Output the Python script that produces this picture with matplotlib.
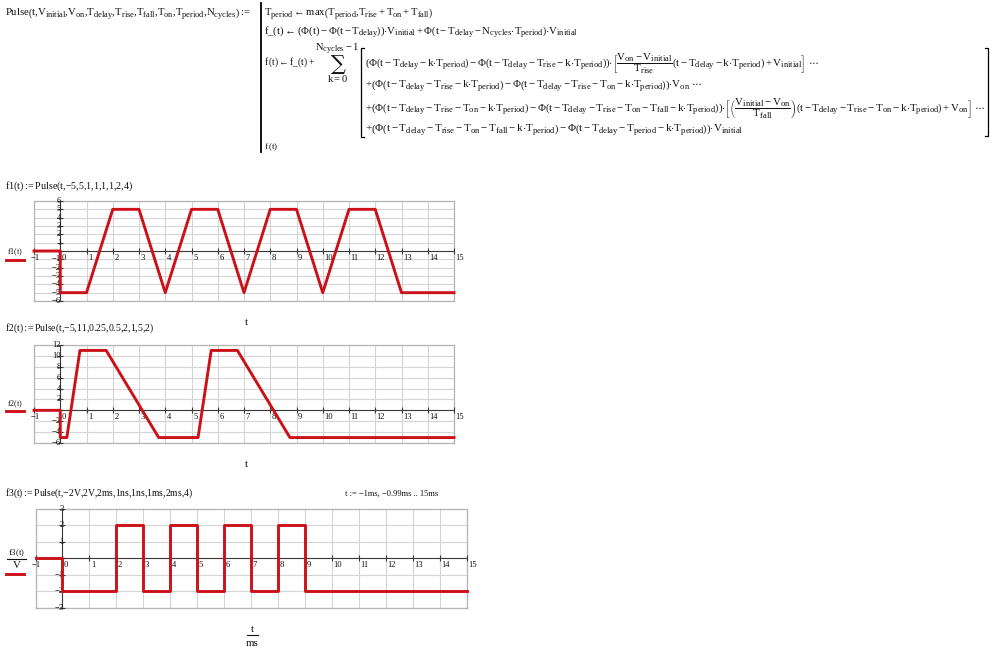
import matplotlib
matplotlib.use('Agg')
import matplotlib.pyplot as plt
from matplotlib.lines import Line2D
import matplotlib.transforms as mtrans

try:
    from matplotlib import _mathtext
    _mathtext.SHRINK_FACTOR = 0.78
except Exception:
    pass

plt.rcParams.update({
    'font.family': ['Liberation Serif', 'DejaVu Serif'],
    'mathtext.fontset': 'custom',
    'mathtext.rm': 'Liberation Serif',
    'mathtext.it': 'Liberation Serif',
    'mathtext.bf': 'Liberation Serif:bold',
    'mathtext.sf': 'Liberation Serif',
    'mathtext.default': 'regular',
})

W, H = 999, 651
RED = '#cc1219'
GRID = '#d4d4d4'
FRAME = '#b4b4b4'
AXC = '#3a3a3a'
TXT = '#111111'

# ---------------- data ----------------
t_ticks = list(range(-1, 16))

# f1(t) = Pulse(t,-5,5,1,1,1,1,2,4)  (vertices)
f1_t = [-1, 0, 0, 1, 2, 3, 4, 5, 6, 7, 8, 9, 10, 11, 12, 13, 15]
f1_v = [0, 0, -5, -5, 5, 5, -5, 5, 5, -5, 5, 5, -5, 5, 5, -5, -5]
f1_yticks = [-6, -5, -4, -3, -2, -1, 0, 1, 2, 3, 4, 5, 6]

# f2(t) = Pulse(t,-5,11,0.25,0.5,2,1,5,2)
f2_t = [-1, 0, 0, 0.25, 0.75, 1.75, 3.75, 5.25, 5.75, 6.75, 8.75, 15]
f2_v = [0, 0, -5, -5, 11, 11, -5, -5, 11, 11, -5, -5]
f2_yticks = [-6, -4, -2, 0, 2, 4, 6, 8, 10, 12]

# f3(t)/V = Pulse(t,-2V,2V,2ms,1ns,1ns,1ms,2ms,4), t in ms
f3_t = [-1, 0, 0, 2, 2, 3, 3, 4, 4, 5, 5, 6, 6, 7, 7, 8, 8, 9, 9, 15]
f3_v = [0, 0, -2, -2, 2, 2, -2, -2, 2, 2, -2, -2, 2, 2, -2, -2, 2, 2, -2, -2]
f3_yticks = [-3, -2, -1, 0, 1, 2, 3]

fig = plt.figure(figsize=(W / 100, H / 100), dpi=100)
fig.patch.set_facecolor('white')
renderer = fig.canvas.get_renderer()


def X(x):
    return x / W


def Y(y):
    return 1 - y / H


def fit_text(x0, x1, yb, s, fs=7.5, va='baseline', **kw):
    t = fig.text(X(x0), Y(yb), s, fontsize=fs, ha='left', va=va, color=TXT, **kw)
    for _ in range(3):
        bb = t.get_window_extent(renderer)
        if bb.width > 0:
            t.set_fontsize(t.get_fontsize() * (x1 - x0) / bb.width)
    return t


def ftext(x, y, s, fs=7.5, ha='left', va='baseline', **kw):
    return fig.text(X(x), Y(y), s, fontsize=fs, ha=ha, va=va, color=TXT, **kw)


def fline(xs, ys, **kw):
    fig.add_artist(Line2D([X(x) for x in xs], [Y(y) for y in ys],
                          transform=fig.transFigure, **kw))


def lab(v):
    return ('\u2212' + str(-v)) if v < 0 else str(v)


def panel(left, top, right, bottom, t, v, yticks, ylim):
    ax = fig.add_axes([X(left), Y(bottom), (right - left) / W, (bottom - top) / H])
    ax.set_xlim(-1, 15)
    ax.set_ylim(*ylim)
    ax.set_xticks(t_ticks)
    ax.set_yticks(yticks)
    ax.grid(True, color=GRID, lw=0.8)
    ax.tick_params(length=0, labelbottom=False, labelleft=False)
    for sp in ax.spines.values():
        sp.set_color(FRAME)
        sp.set_linewidth(0.9)
    ax.axhline(0, color=AXC, lw=0.8, zorder=2.5)
    ax.axvline(0, color=AXC, lw=0.8, zorder=2.5)
    ax.plot(t_ticks, [0] * len(t_ticks), ls='none', marker='|', ms=4, mew=0.8,
            color=AXC, zorder=2.6, clip_on=False)
    ax.plot([0] * len(yticks), yticks, ls='none', marker='_', ms=4, mew=0.8,
            color=AXC, zorder=2.6, clip_on=False)
    for tk in t_ticks:
        dx = -3.5 if tk < 0 else 1.5
        tr = mtrans.offset_copy(ax.transData, fig=fig, x=dx, y=-7, units='dots')
        ax.text(tk, 0, lab(tk), transform=tr, ha='left', va='center',
                fontsize=6.2, color=TXT, zorder=3)
    tr = mtrans.offset_copy(ax.transData, fig=fig, x=1, y=0, units='dots')
    for yk in yticks:
        if yk == 0:
            continue
        ax.text(0, yk, lab(yk), transform=tr, ha='right', va='center',
                fontsize=6.2, color=TXT, zorder=3)
    ax.plot(t, v, color=RED, lw=2.1, zorder=5, clip_on=False)
    return ax


C = r'{,}'
ASSIGN = r':\!\!='

# ---------------- formula block ----------------
fit_text(5, 250, 16.5,
         r'$Pulse\left(t' + C + 'V_{initial}' + C + 'V_{on}' + C + 'T_{delay}' + C + 'T_{rise}' + C
         + 'T_{fall}' + C + 'T_{on}' + C + 'T_{period}' + C + r'N_{cycles}\right)' + ASSIGN + '$')
fline([261, 261], [3, 152], color='black', lw=1.3)
fit_text(264, 433, 16.5,
         r'$T_{period}\leftarrow max\left(T_{period}' + C + r'T_{rise}+T_{on}+T_{fall}\right)$')
fit_text(264, 578, 35,
         r'$f\_(t)\leftarrow\left(\Phi(t)-\Phi\left(t-T_{delay}\right)\right){\cdot}V_{initial}+\Phi\left(t-T_{delay}-N_{cycles}{\cdot}T_{period}\right){\cdot}V_{initial}$')
fit_text(264, 315, 64.5, r'$f\,(t)\leftarrow f\_(t)+$')
ftext(337.5, 50, r'$N_{cycles}-1$', fs=7.6, ha='center')
ftext(338, 70, '\u2211', fs=15, ha='center', family=['DejaVu Serif'])
ftext(338, 82.5, r'$k=0$', fs=7.6, ha='center')

# big brackets
fline([364, 361, 361, 364], [48, 48, 137, 137], color='black', lw=0.9)
fline([985, 988, 988, 985], [48, 48, 136, 136], color='black', lw=0.9)

fit_text(365, 817, 67,
         r'$\left(\Phi\left(t-T_{delay}-k{\cdot}T_{period}\right)-\Phi\left(t-T_{delay}-T_{rise}-k{\cdot}T_{period}\right)\right){\cdot}\left[\dfrac{V_{on}-V_{initial}}{T_{rise}}\left(t-T_{delay}-k{\cdot}T_{period}\right)+V_{initial}\right]\ \cdots$')
fit_text(365, 702, 89,
         r'$+\left(\Phi\left(t-T_{delay}-T_{rise}-k{\cdot}T_{period}\right)-\Phi\left(t-T_{delay}-T_{rise}-T_{on}-k{\cdot}T_{period}\right)\right){\cdot}V_{on}\ \cdots$')
fit_text(365, 986, 112,
         r'$+\left(\Phi\left(t-T_{delay}-T_{rise}-T_{on}-k{\cdot}T_{period}\right)-\Phi\left(t-T_{delay}-T_{rise}-T_{on}-T_{fall}-k{\cdot}T_{period}\right)\right){\cdot}\left[\left(\dfrac{V_{initial}-V_{on}}{T_{fall}}\right)\left(t-T_{delay}-T_{rise}-T_{on}-k{\cdot}T_{period}\right)+V_{on}\right]\ \cdots$')
fit_text(365, 743, 132,
         r'$+\left(\Phi\left(t-T_{delay}-T_{rise}-T_{on}-T_{fall}-k{\cdot}T_{period}\right)-\Phi\left(t-T_{delay}-T_{period}-k{\cdot}T_{period}\right)\right){\cdot}V_{initial}$')
fit_text(264, 278, 149, r'$f\,(t)$')

# ---------------- plot 1 ----------------
fit_text(5, 133, 188.5, r'$f1(t)' + ASSIGN + 'Pulse(t' + C + '{-5}' + C + '5' + C + '1' + C + '1' + C
         + '1' + C + '1' + C + '2' + C + '4)$')
panel(34, 201, 454, 301, f1_t, f1_v, f1_yticks, (-6, 6))
fit_text(7, 23, 254, r'$f1(t)$')
fline([6, 24], [260, 260], color=RED, lw=2.1)
ftext(246, 325, 't', fs=7.8, ha='center')

# ---------------- plot 2 ----------------
fit_text(5, 155, 330.5, r'$f2(t)' + ASSIGN + 'Pulse(t' + C + '{-5}' + C + '11' + C + '0.25' + C + '0.5' + C
         + '2' + C + '1' + C + '5' + C + '2)$')
panel(34, 345, 454, 443, f2_t, f2_v, f2_yticks, (-6, 12))
fit_text(7, 23, 406, r'$f2(t)$')
fline([6, 24], [411, 411], color=RED, lw=2.1)
ftext(246, 467, 't', fs=7.8, ha='center')

# ---------------- plot 3 ----------------
fit_text(5, 194, 495.5, r'$f3(t)' + ASSIGN + 'Pulse(t' + C + '{-2V}' + C + '2V' + C + '2ms' + C + '1ns' + C
         + '1ns' + C + '1ms' + C + '2ms' + C + '4)$')
fit_text(345, 438, 495.5, 't := \u22121ms, \u22120.99ms .. 15ms')
panel(35.5, 509, 467, 607.5, f3_t, f3_v, f3_yticks, (-3, 3))
fit_text(8, 25, 555, r'$f3(t)$')
fline([7, 26], [558.5, 558.5], color=TXT, lw=0.8)
ftext(16.5, 568.5, 'V', fs=7.8, ha='center')
fline([6, 24], [574, 574], color=RED, lw=2.1)
ftext(252.5, 632, 't', fs=7.8, ha='center')
fline([247, 258], [635, 635], color=TXT, lw=0.8)
ftext(252.5, 645.5, 'ms', fs=7.8, ha='center')

fig.savefig('out.png', dpi=100)
